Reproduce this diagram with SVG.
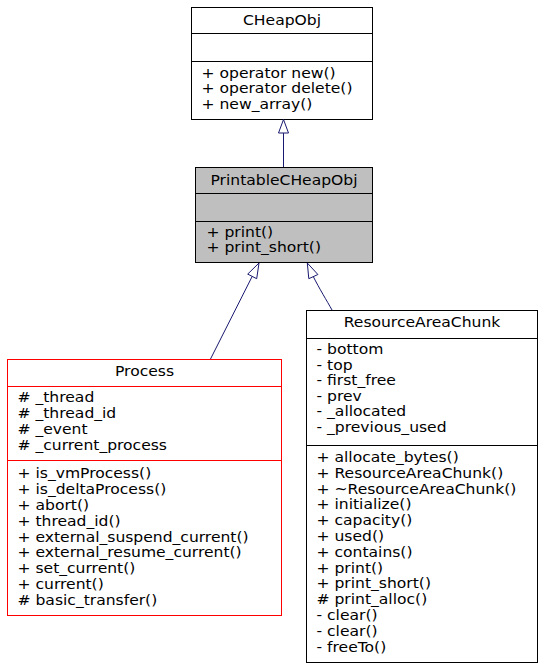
<svg xmlns="http://www.w3.org/2000/svg" width="546" height="671" viewBox="0 0 546 671">
<style>
text{font-family:"DejaVu Sans",sans-serif;font-size:13.2px;fill:#000}
.c{text-anchor:middle}
.box{fill:#fff;stroke:#000;stroke-width:1}
.gray{fill:#bfbfbf}
.red{stroke:#ff0000}
.sep{stroke:#000;stroke-width:1}
.sepr{stroke:#ff0000;stroke-width:1}
.edge{fill:none;stroke:#191970;stroke-width:1}
.head{fill:#fff;stroke:#191970;stroke-width:1}
</style>
<rect width="546" height="671" fill="#fff"/>
<g id="CHeapObj">
<rect class="box" x="191.5" y="7.5" width="181" height="112"/>
<line class="sep" x1="191.5" y1="33.5" x2="372.5" y2="33.5"/>
<line class="sep" x1="191.5" y1="61.5" x2="372.5" y2="61.5"/>
<text class="c" transform="translate(282 0) scale(1.18 1)" x="0" y="25">CHeapObj</text>
<text transform="translate(201.5 0) scale(1.18 1)" x="0" y="78">+ operator new()<tspan x="0" dy="15.5">+ operator delete()</tspan><tspan x="0" dy="15.5">+ new_array()</tspan></text>
</g>
<g id="PrintableCHeapObj">
<rect class="box gray" x="195.5" y="167.5" width="177" height="95"/>
<line class="sep" x1="195.5" y1="193.5" x2="372.5" y2="193.5"/>
<line class="sep" x1="195.5" y1="221.5" x2="372.5" y2="221.5"/>
<text class="c" transform="translate(284 0) scale(1.18 1)" x="0" y="185">PrintableCHeapObj</text>
<text transform="translate(206.5 0) scale(1.18 1)" x="0" y="237">+ print()<tspan x="0" dy="15.5">+ print_short()</tspan></text>
</g>
<g id="Process">
<rect class="box red" x="7.5" y="359.5" width="274" height="256"/>
<line class="sepr" x1="7.5" y1="386.5" x2="281.5" y2="386.5"/>
<line class="sepr" x1="7.5" y1="460.5" x2="281.5" y2="460.5"/>
<text class="c" transform="translate(144.5 0) scale(1.18 1)" x="0" y="376">Process</text>
<text transform="translate(17.5 0) scale(1.18 1)" x="0" y="402"># _thread<tspan x="0" dy="16"># _thread_id</tspan><tspan x="0" dy="16"># _event</tspan><tspan x="0" dy="16"># _current_process</tspan></text>
<text transform="translate(17.5 0) scale(1.18 1)" x="0" y="478">+ is_vmProcess()<tspan x="0" dy="15.9">+ is_deltaProcess()</tspan><tspan x="0" dy="15.9">+ abort()</tspan><tspan x="0" dy="15.9">+ thread_id()</tspan><tspan x="0" dy="15.9">+ external_suspend_current()</tspan><tspan x="0" dy="15.9">+ external_resume_current()</tspan><tspan x="0" dy="15.9">+ set_current()</tspan><tspan x="0" dy="15.9">+ current()</tspan><tspan x="0" dy="15.9"># basic_transfer()</tspan></text>
</g>
<g id="ResourceAreaChunk">
<rect class="box" x="306.5" y="310.5" width="231" height="352"/>
<line class="sep" x1="306.5" y1="338.5" x2="537.5" y2="338.5"/>
<line class="sep" x1="306.5" y1="445.5" x2="537.5" y2="445.5"/>
<text class="c" transform="translate(422 0) scale(1.18 1)" x="0" y="327">ResourceAreaChunk</text>
<text transform="translate(316.5 0) scale(1.18 1)" x="0" y="354">- bottom<tspan x="0" dy="15.6">- top</tspan><tspan x="0" dy="15.6">- first_free</tspan><tspan x="0" dy="15.6">- prev</tspan><tspan x="0" dy="15.6">- _allocated</tspan><tspan x="0" dy="15.6">- _previous_used</tspan></text>
<text transform="translate(316.5 0) scale(1.18 1)" x="0" y="462">+ allocate_bytes()<tspan x="0" dy="15.8">+ ResourceAreaChunk()</tspan><tspan x="0" dy="15.8">+ ~ResourceAreaChunk()</tspan><tspan x="0" dy="15.8">+ initialize()</tspan><tspan x="0" dy="15.8">+ capacity()</tspan><tspan x="0" dy="15.8">+ used()</tspan><tspan x="0" dy="15.8">+ contains()</tspan><tspan x="0" dy="15.8">+ print()</tspan><tspan x="0" dy="15.8">+ print_short()</tspan><tspan x="0" dy="15.8"># print_alloc()</tspan><tspan x="0" dy="15.8">- clear()</tspan><tspan x="0" dy="15.8">- clear()</tspan><tspan x="0" dy="15.8">- freeTo()</tspan></text>
</g>
<g id="connectors">
<line class="edge" x1="283.5" y1="167" x2="283.5" y2="133"/>
<polygon class="head" points="283.5,119.5 278.5,133 288.5,133"/>
<line class="edge" x1="210.5" y1="359" x2="252.2" y2="276.4"/>
<polygon class="head" points="259,263 256.7,278.7 247.7,274.1"/>
<path class="edge" d="M332,310 C327,301 319,288 313.3,276.6"/>
<polygon class="head" points="307.3,263 317.9,274.5 308.8,278.7"/>
</g>
</svg>
